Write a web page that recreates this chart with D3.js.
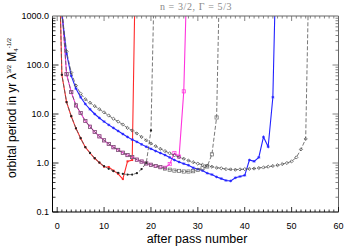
<!DOCTYPE html>
<html>
<head>
<meta charset="utf-8">
<script src="https://cdn.jsdelivr.net/npm/d3@7"></script>
<style>
  body { margin: 0; background: #fff; }
  svg { display: block; }
</style>
</head>
<body>
<div id="chart"></div>
<script>
// pass numbers start at 0 for every run; values are orbital periods
const redVals = [6e5, 63, 17.5, 9, 5.1, 3.2, 2.1, 1.6, 1.25, 1.02, 0.84, 0.83, 0.7, 0.6, 0.47, 1.08, 1.15, 8e5];
const blackAVals = [6e5, 63, 17.5, 9, 5.1, 3.2, 2.1, 1.6, 1.25, 1.02, 0.86, 0.76, 0.68, 0.63, 0.6, 0.58, 0.58, 0.62, 0.75, 1.0, 4.6, 1e5];
const magentaVals = [1e6, 1500, 65, 28, 15, 10.5, 7.2, 5.5, 4.3, 3.5, 2.9, 2.45, 2.1, 1.85, 1.62, 1.45, 1.32, 1.17, 1.07, 0.98, 0.92, 0.87, 0.83, 0.8, 0.95, 1.6, 1.35, 29, 1e5];
const blackBVals = [1e6, 1500, 65, 28, 15, 10.5, 7.2, 5.5, 4.3, 3.5, 2.9, 2.45, 2.1, 1.85, 1.62, 1.45, 1.32, 1.17, 1.07, 0.98, 0.92, 0.87, 0.82, 0.77, 0.73, 0.7, 0.69, 0.67, 0.67, 0.68, 0.72, 0.78, 0.85, 1.5, 8.5, 3e5];
const blueVals = [1e6, 1100, 170, 60, 33, 22, 16, 12.5, 10, 8.3, 7.0, 6.0, 5.2, 4.5, 3.9, 3.4, 3.0, 2.7, 2.4, 2.15, 1.95, 1.75, 1.6, 1.45, 1.3, 1.15, 1.05, 0.97, 0.9, 0.8, 0.75, 0.7, 0.62, 0.58, 0.52, 0.48, 0.44, 0.43, 0.5, 0.53, 0.56, 1.15, 1.08, 1.3, 3.4, 2.15, 22, 3e5];
const blackCVals = [1e6, 1200, 190, 70, 38, 26, 20, 17, 14.5, 12.5, 10.8, 9.3, 8.0, 7.0, 6.1, 5.2, 4.6, 4.0, 3.4, 2.9, 2.5, 2.2, 1.95, 1.75, 1.58, 1.43, 1.32, 1.22, 1.12, 1.04, 0.97, 0.92, 0.88, 0.84, 0.8, 0.78, 0.75, 0.74, 0.73, 0.74, 0.75, 0.76, 0.77, 0.79, 0.81, 0.84, 0.87, 0.9, 0.95, 1.0, 1.08, 1.3, 1.9, 3.1, 3e5];

const xTicks = [0, 10, 20, 30, 40, 50, 60];
const yTicks = [0.1, 1, 10, 100, 1000];
const yTickLabels = ["0.1", "1.0", "10.0", "100.0", "1000.0"];

const width = 350, height = 250;
const plot = { left: 52.5, right: 338.5, top: 16, bottom: 212 };

const svg = d3.select("#chart").append("svg")
  .attr("width", width)
  .attr("height", height)
  .style("font-family", "'Liberation Sans', Arial, sans-serif");

const x = d3.scaleLinear().domain([-1, 60]).range([plot.left, plot.right]);
const y = d3.scaleLog().domain([0.1, 1000]).range([plot.bottom, plot.top]);

svg.append("clipPath").attr("id", "clip")
  .append("rect")
  .attr("x", plot.left).attr("y", plot.top)
  .attr("width", plot.right - plot.left)
  .attr("height", plot.bottom - plot.top);

const toPts = vals => vals.map((v, i) => [i, v]);
const line = d3.line().x(d => x(d[0])).y(d => y(d[1]));

const g = svg.append("g").attr("clip-path", "url(#clip)");

function drawSeries(vals, opts) {
  const pts = toPts(vals);
  g.append("path")
    .datum(pts)
    .attr("fill", "none")
    .attr("stroke", opts.color)
    .attr("stroke-width", opts.width)
    .attr("stroke-dasharray", opts.dash || null)
    .attr("d", line);

  const inRange = pts.filter(d => d[1] <= 1000 && d[1] >= 0.1);
  const m = g.append("g");
  inRange.forEach(d => {
    const cx = x(d[0]), cy = y(d[1]);
    if (opts.marker === "fsquare") {
      m.append("rect").attr("x", cx - 1).attr("y", cy - 1).attr("width", 2).attr("height", 2)
        .attr("fill", opts.mcolor);
    } else if (opts.marker === "osquare") {
      m.append("rect").attr("x", cx - 1.6).attr("y", cy - 1.6).attr("width", 3.2).attr("height", 3.2)
        .attr("fill", "none").attr("stroke", opts.mcolor).attr("stroke-width", 0.7);
    } else if (opts.marker === "dot") {
      m.append("circle").attr("cx", cx).attr("cy", cy).attr("r", 1.15).attr("fill", opts.mcolor);
    } else if (opts.marker === "star") {
      m.append("path")
        .attr("d", `M${cx - 1.4},${cy}H${cx + 1.4}M${cx},${cy - 1.4}V${cy + 1.4}M${cx - 1},${cy - 1}L${cx + 1},${cy + 1}M${cx - 1},${cy + 1}L${cx + 1},${cy - 1}`)
        .attr("stroke", opts.mcolor).attr("stroke-width", 0.7);
    } else if (opts.marker === "diamond") {
      m.append("path")
        .attr("d", `M${cx},${cy - 1.6}L${cx + 1.6},${cy}L${cx},${cy + 1.6}L${cx - 1.6},${cy}Z`)
        .attr("fill", "none").attr("stroke", opts.mcolor).attr("stroke-width", 0.7);
    }
  });
}

// colored runs
drawSeries(redVals, { color: "#ff2a2a", width: 1.1, marker: "fsquare", mcolor: "#ff2a2a" });
drawSeries(magentaVals, { color: "#ff33dd", width: 1.1, marker: "osquare", mcolor: "#ff33dd" });
drawSeries(blueVals, { color: "#2222ff", width: 1.1, marker: "star", mcolor: "#2222ff" });
// black dashed companions
drawSeries(blackAVals, { color: "#555", width: 0.8, dash: "4,2", marker: "dot", mcolor: "#222" });
drawSeries(blackBVals, { color: "#555", width: 0.8, dash: "4,2", marker: "osquare", mcolor: "#666" });
drawSeries(blackCVals, { color: "#555", width: 0.8, dash: "4,2", marker: "diamond", mcolor: "#444" });

/** Frame and ticks */
const frame = svg.append("g");
frame.append("line").attr("x1", plot.left).attr("x2", plot.right).attr("y1", plot.bottom).attr("y2", plot.bottom).attr("stroke", "#000");
frame.append("line").attr("x1", plot.left).attr("x2", plot.left).attr("y1", plot.top).attr("y2", plot.bottom).attr("stroke", "#000");
frame.append("line").attr("x1", plot.left).attr("x2", plot.right).attr("y1", plot.top).attr("y2", plot.top).attr("stroke", "#666");
frame.append("line").attr("x1", plot.right).attr("x2", plot.right).attr("y1", plot.top).attr("y2", plot.bottom).attr("stroke", "#666");

d3.range(-1, 61).forEach(v => {
  const len = v % 10 === 0 ? 5 : 2.5;
  const px = x(v);
  frame.append("line").attr("x1", px).attr("x2", px).attr("y1", plot.bottom).attr("y2", plot.bottom - len).attr("stroke", "#000").attr("stroke-width", 0.8);
  frame.append("line").attr("x1", px).attr("x2", px).attr("y1", plot.top).attr("y2", plot.top + len).attr("stroke", "#666").attr("stroke-width", 0.8);
});

yTicks.slice(0, -1).forEach(dec => {
  d3.range(1, 10).forEach(k => {
    const v = dec * k;
    const len = k === 1 ? 6 : 3;
    const py = y(v);
    frame.append("line").attr("x1", plot.left).attr("x2", plot.left + len).attr("y1", py).attr("y2", py).attr("stroke", "#000").attr("stroke-width", 0.8);
    frame.append("line").attr("x1", plot.right).attr("x2", plot.right - len).attr("y1", py).attr("y2", py).attr("stroke", "#666").attr("stroke-width", 0.8);
  });
});

/** Tick labels */
xTicks.forEach(v => {
  svg.append("text").attr("x", x(v)).attr("y", 229)
    .attr("text-anchor", "middle").attr("font-size", 9).attr("fill", "#000").text(v);
});
yTicks.forEach((v, i) => {
  svg.append("text").attr("x", 49).attr("y", y(v) + 3.2)
    .attr("text-anchor", "end").attr("font-size", 9).attr("fill", "#000").text(yTickLabels[i]);
});

/** Axis titles */
svg.append("text").attr("x", 197).attr("y", 243)
  .attr("text-anchor", "middle").attr("font-size", 12.5).attr("fill", "#000")
  .text("after pass number");

const yl = svg.append("text")
  .attr("transform", "translate(16,108) rotate(-90)")
  .attr("text-anchor", "middle").attr("font-size", 12).attr("fill", "#000");
yl.append("tspan").text("orbital period in yr λ");
yl.append("tspan").attr("font-size", 6).attr("dy", -5).text("3/2");
yl.append("tspan").attr("dy", 5).text(" M");
yl.append("tspan").attr("font-size", 6).attr("dy", 2).text("4");
yl.append("tspan").attr("font-size", 6).attr("dy", -7).text("-1/2");

svg.append("text").attr("x", 196).attr("y", 10)
  .attr("text-anchor", "middle").attr("font-size", 10)
  .attr("font-family", "'Liberation Serif', 'DejaVu Serif', serif")
  .attr("letter-spacing", 0.6)
  .attr("fill", "#888")
  .text("n = 3/2, Γ = 5/3");
</script>
</body>
</html>
